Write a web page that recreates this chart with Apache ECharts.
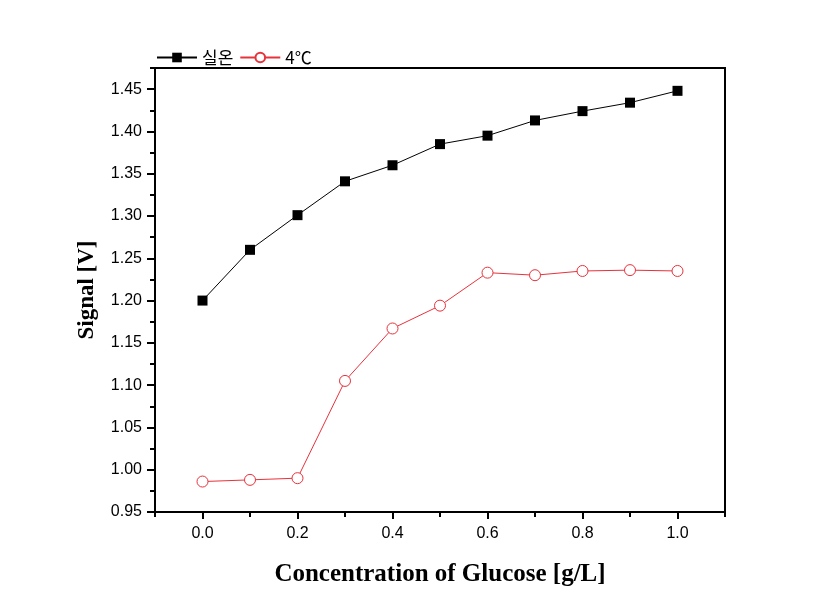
<!DOCTYPE html>
<html><head><meta charset="utf-8">
<script src="https://cdn.jsdelivr.net/npm/echarts@6/dist/echarts.min.js"></script>
<style>html,body{margin:0;padding:0;background:#fff}#c{width:836px;height:610px}</style>
</head><body><div id="c"></div>
<script>
const concentrations = [0.0, 0.1, 0.2, 0.3, 0.4, 0.5, 0.6, 0.7, 0.8, 0.9, 1.0];
const roomTemp = [1.200, 1.260, 1.301, 1.341, 1.360, 1.385, 1.395, 1.413, 1.424, 1.434, 1.448];
const cold4C = [0.986, 0.988, 0.990, 1.105, 1.167, 1.194, 1.233, 1.230, 1.235, 1.236, 1.235];
const xTickLabels = [0.0, 0.2, 0.4, 0.6, 0.8, 1.0];
const yTickLabels = [0.95, 1.00, 1.05, 1.10, 1.15, 1.20, 1.25, 1.30, 1.35, 1.40, 1.45];
const seriesNames = ['실온', '4℃'];

const chart = echarts.init(document.getElementById('c'));
const labelFont = {fontFamily: 'Liberation Sans, Arial', fontSize: 16, color: '#000'};
const baseX = {type: 'value', min: -0.1, max: 1.1, position: 'bottom', splitLine: {show: false},
  axisLine: {show: true, onZero: false, lineStyle: {color: '#000', width: 2}}};
const baseY = {type: 'value', min: 0.95, max: 1.475, position: 'left', splitLine: {show: false},
  axisLine: {show: true, onZero: false, lineStyle: {color: '#000', width: 2}}};
chart.setOption({
  backgroundColor: '#fff',
  animation: false,
  grid: {left: 155, right: 111, top: 68, bottom: 98, show: true, borderColor: '#000', borderWidth: 2, backgroundColor: 'transparent'},
  legend: {left: 151, top: 44, itemWidth: 40, itemHeight: 12, itemGap: 6,
    textStyle: {fontFamily: 'Noto Sans CJK KR', fontSize: 17, color: '#000'},
    data: seriesNames},
  xAxis: [
    Object.assign({}, baseX, {interval: 0.1,
      axisTick: {show: true, length: 5, lineStyle: {color: '#000', width: 2}},
      axisLabel: {show: false}}),
    Object.assign({}, baseX, {
      name: 'Concentration of Glucose [g/L]', nameLocation: 'middle', nameGap: 50,
      nameTextStyle: {fontFamily: 'Liberation Serif, Times New Roman', fontWeight: 'bold', fontSize: 25, color: '#000'},
      axisTick: {show: true, length: 7, customValues: xTickLabels, lineStyle: {color: '#000', width: 2}},
      axisLabel: Object.assign({margin: 14, customValues: xTickLabels, formatter: v => v.toFixed(1)}, labelFont)})
  ],
  yAxis: [
    Object.assign({}, baseY, {interval: 0.025,
      axisTick: {show: true, length: 5, lineStyle: {color: '#000', width: 2}},
      axisLabel: {show: false}}),
    Object.assign({}, baseY, {
      name: 'Signal [V]', nameLocation: 'middle', nameGap: 56, nameRotate: 90,
      nameTextStyle: {fontFamily: 'Liberation Serif, Times New Roman', fontWeight: 'bold', fontSize: 23, color: '#000'},
      axisTick: {show: true, length: 8, customValues: yTickLabels, lineStyle: {color: '#000', width: 2}},
      axisLabel: Object.assign({margin: 13, customValues: yTickLabels, formatter: v => v.toFixed(2)}, labelFont)})
  ],
  series: [
    {name: seriesNames[0], type: 'line', xAxisIndex: 1, yAxisIndex: 1,
      data: concentrations.map((x, i) => [x, roomTemp[i]]),
      symbol: 'rect', symbolSize: 10, itemStyle: {color: '#000'},
      lineStyle: {color: '#000', width: 1}},
    {name: seriesNames[1], type: 'line', xAxisIndex: 1, yAxisIndex: 1,
      data: concentrations.map((x, i) => [x, cold4C[i]]),
      symbol: 'circle', symbolSize: 11, itemStyle: {color: '#fff', borderColor: '#e8323c', borderWidth: 1},
      lineStyle: {color: '#e8323c', width: 1}}
  ]
});
</script></body></html>
